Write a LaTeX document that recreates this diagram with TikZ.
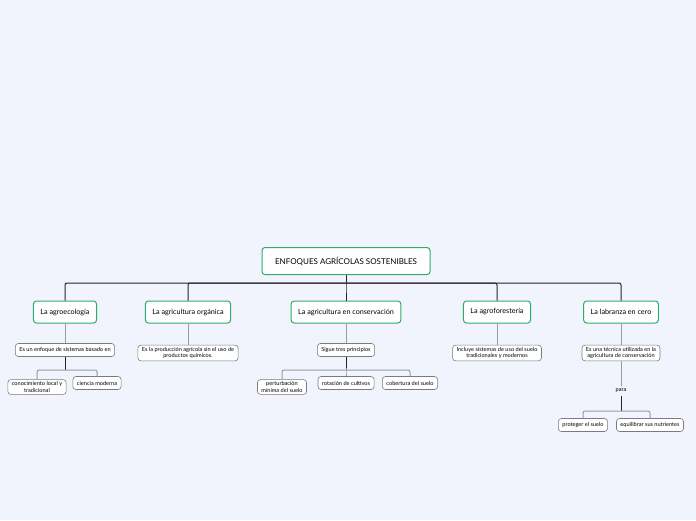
\documentclass[tikz,border=0pt]{standalone}
\usepackage{fontspec}
\setmainfont{Lato}
\usetikzlibrary{positioning}

\definecolor{bgblue}{HTML}{F1F4FD}
\definecolor{topicgreen}{HTML}{2BAE6B}
\definecolor{subgray}{HTML}{7A7A80}
\definecolor{linkgray}{HTML}{9A9AA2}

\begin{document}
\begin{tikzpicture}[
  x=1pt, y=-1pt,
  font=\fontsize{5.6pt}{6.6pt}\selectfont,
  root/.style={draw=topicgreen,line width=1pt,rounded corners=3pt,fill=white,
               minimum width=168pt,minimum height=27pt,
               font=\fontsize{8pt}{9pt}\selectfont},
  topic/.style={draw=topicgreen,line width=1pt,rounded corners=3pt,fill=white,
                minimum height=22pt,inner xsep=7pt,
                font=\fontsize{7.2pt}{8pt}\selectfont},
  sub/.style={draw=subgray,line width=0.6pt,rounded corners=3pt,fill=white,
              align=center,inner xsep=4pt,inner ysep=2pt,minimum height=13pt},
  link/.style={draw=black!85,line width=1pt,rounded corners=2pt},
  thin/.style={draw=linkgray,line width=1pt,rounded corners=2pt}]

\fill[bgblue] (0,0) rectangle (696,520);
\useasboundingbox (0,0) rectangle (696,520);

% --- centre and main topics ---
\node[root] (root) at (346,261) {ENFOQUES AGRÍCOLAS SOSTENIBLES};

\node[topic] (t1) at (65,312)  {La agroecología};
\node[topic] (t2) at (188,312) {La agricultura orgánica};
\node[topic] (t3) at (346,312) {La agricultura en conservación};
\node[topic] (t4) at (497,312) {La agroforestería};
\node[topic] (t5) at (621,312) {La labranza en cero};

% second level
\node[sub] (s1) at (65,350)  {Es un enfoque de sistemas basado en};
\node[sub] (s2) at (188,353) {Es la producción agrícola sin el uso de\\productos químicos.};
\node[sub] (s3) at (346,350) {Sigue tres principios};
\node[sub] (s4) at (497,353) {Incluye sistemas de uso del suelo\\tradicionales y modernos};
\node[sub] (s5) at (621,353) {Es una técnica utilizada en la\\agricultura de conservación};

% third level
\node[sub] (a1) at (37,387)  {conocimiento local y\\tradicional};
\node[sub] (a2) at (97,383)  {ciencia moderna};
\node[sub] (c1) at (282,387) {perturbación\\mínima del suelo};
\node[sub] (c2) at (346,383) {rotación de cultivos};
\node[sub] (c3) at (410,383) {cobertura del suelo};
\node (para) at (621,391) {para};
\node[sub] (l1) at (583,425) {proteger el suelo};
\node[sub] (l2) at (650,425) {equilibrar sus nutrientes};

% --- connectors ---
\coordinate (rb) at (346,283);
\draw[link] (root) -- (rb);
\foreach \t in {t1,t2,t3,t4,t5}
  \draw[link] (rb) -| (\t.north);

\foreach \t/\s in {t1/s1,t2/s2,t3/s3,t4/s4,t5/s5}
  \draw[thin] (\t) -- (\s);

\coordinate (ab) at (65,370);
\draw[link] (s1) -- (ab);
\draw[thin] (ab) -| (a1.north);
\draw[thin] (ab) -| (a2.north);

\coordinate (cb) at (346,370);
\draw[link] (s3) -- (cb);
\foreach \c in {c1,c2,c3}
  \draw[thin] (cb) -| (\c.north);

\draw[thin] (s5) -- (para);
\coordinate (lb) at (621,411);
\draw[link] (para) -- (lb);
\draw[thin] (lb) -| (l1.north);
\draw[thin] (lb) -| (l2.north);

\end{tikzpicture}
\end{document}
